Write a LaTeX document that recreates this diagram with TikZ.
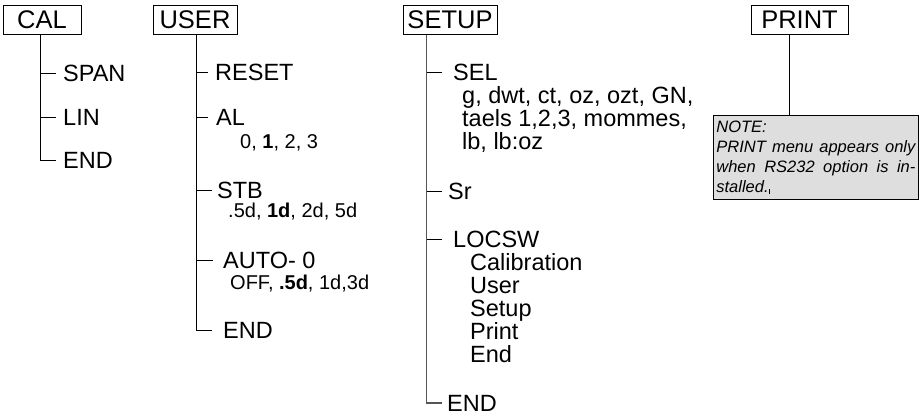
\documentclass[tikz,border=0pt]{standalone}
\usepackage{fontspec}
\setmainfont{Liberation Sans}
\definecolor{NoteGray}{RGB}{222,222,222}
\definecolor{TrunkGray}{RGB}{85,85,85}

\begin{document}
\begin{tikzpicture}[x=1pt,y=-1pt,
	menubox/.style={draw,line width=0.8pt,minimum height=29pt,inner sep=0pt,font=\fontsize{25.5}{26}\selectfont},
	item/.style={anchor=west,inner sep=0pt,text height=16.8pt,text depth=0pt,font=\fontsize{23.5}{22.8}\selectfont},
	subitem/.style={anchor=west,inner sep=0pt,text height=14.3pt,text depth=0pt,font=\fontsize{20}{22}\selectfont},
	itemlist/.style={anchor=north west,inner sep=0pt,align=left,font=\fontsize{23.5}{22.8}\selectfont},
	tree/.style={line width=0.8pt}]
	\useasboundingbox (0,0) rectangle (920,419);
	% CAL
	\node[menubox,minimum width=78pt] (cal) at (42,20) {CAL};
	\coordinate (caltrunk) at ([xshift=-2pt]cal.south);
	\node[item] (span) at (63,73) {SPAN};
	\node[item] (lin) at (63,117) {LIN};
	\node[item] (calend) at (63,160) {END};
	\draw[tree] (caltrunk) |- ([xshift=-7pt]calend.west);
	\foreach \n in {span,lin}
		\draw[tree] (caltrunk |- \n.west) -- ([xshift=-7pt]\n.west);
	% USER
	\node[menubox,minimum width=84pt] (user) at (195,20) {USER};
	\coordinate (usertrunk) at ([xshift=1pt]user.south);
	\node[item] (reset) at (215,72) {RESET};
	\node[item] (al) at (216,117) {AL};
	\node[subitem] (allist) at (240,141) {0, \textbf{1}, 2, 3};
	\node[item] (stb) at (217,190) {STB};
	\node[subitem] (stblist) at (228,210) {.5d, \textbf{1d}, 2d, 5d};
	\node[item] (auto) at (223,260) {AUTO- 0};
	\node[subitem] (autolist) at (230,282) {OFF, \textbf{.5d}, 1d,3d};
	\node[item] (userend) at (223,330) {END};
	\draw[tree] (usertrunk) |- ([xshift=-11pt]userend.west);
	\foreach \n/\g in {reset/7,al/8,stb/5,auto/10}
		\draw[tree] (usertrunk |- \n.west) -- ([xshift=-\g pt]\n.west);
	% SETUP
	\node[menubox,minimum width=94pt] (setup) at (450,20) {SETUP};
	\coordinate (setuptrunk) at ([xshift=24pt]setup.south west);
	\node[item] (sel) at (453,72) {SEL};
	\node[itemlist] (sellist) at (462,86.6) {g, dwt, ct, oz, ozt, GN,\\taels 1,2,3, mommes,\\lb, lb:oz};
	\node[item] (sr) at (448,191) {Sr};
	\node[item] (locsw) at (453,239) {LOCSW};
	\node[itemlist] (locswlist) at (470,253.6) {Calibration\\User\\Setup\\Print\\End};
	\node[item] (setupend) at (447,403) {END};
	\draw[tree,TrunkGray,line width=1.1pt] (setuptrunk) |- ([xshift=-5pt]setupend.west);
	\foreach \n/\g in {sel/11,sr/6,locsw/11}
		\draw[tree] (setuptrunk |- \n.west) -- ([xshift=-\g pt]\n.west);
	% PRINT
	\node[menubox,minimum width=97pt] (print) at (799.5,20) {PRINT};
	\coordinate (printtrunk) at ([xshift=-10pt]print.south);
	\node[draw,fill=NoteGray,line width=0.8pt,anchor=north west,minimum width=205pt,minimum height=84pt,
		text width=199pt,inner xsep=3pt,inner ysep=3pt,align=justify,
		font=\fontsize{16.5}{20}\selectfont\itshape] (note) at (713,115)
		{NOTE:\\PRINT menu appears only\linebreak when RS232 option is in-\linebreak stalled.\raisebox{-1.5pt}{\rule{0.7pt}{5pt}}};
	\draw[tree] (printtrunk) -- (printtrunk |- note.north);
\end{tikzpicture}
\end{document}
